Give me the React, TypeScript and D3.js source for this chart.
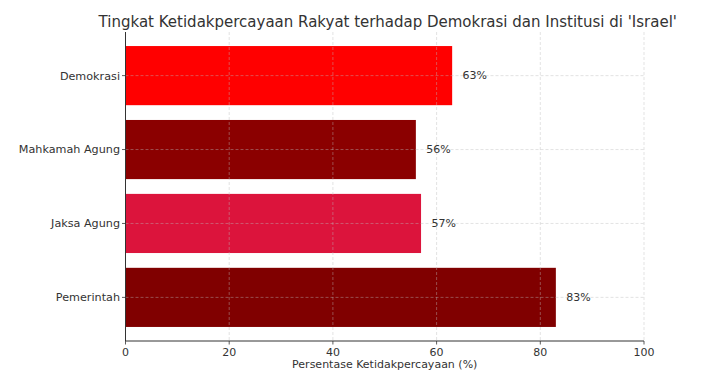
import React from "react";
import * as d3 from "d3";

const categories = ["Pemerintah", "Jaksa Agung", "Mahkamah Agung", "Demokrasi"];
const values = [83, 57, 56, 63];
const colors = ["#800000", "#DC143C", "#8B0000", "#FF0000"];
const xTicks = [0, 20, 40, 60, 80, 100];
const title = "Tingkat Ketidakpercayaan Rakyat terhadap Demokrasi dan Institusi di 'Israel'";
const xLabel = "Persentase Ketidakpercayaan (%)";

const W = 718, H = 384;
const left = 125.5, right = 644, top = 32, bottom = 341;
const font = "DejaVu Sans, sans-serif";
const textColor = "#333";

export default function App() {
  const x = d3.scaleLinear().domain([0, 100]).range([left, right]);
  const y = d3.scaleLinear().domain([-0.59, 3.59]).range([bottom, top]);
  const bh = y(0) - y(0.8);
  return (
    <svg width={W} height={H} style={{ position: "absolute", left: 0, top: 0, background: "#fff" }}>
      <text x={(left + right) / 2 + 3} y={27} textAnchor="middle" fontFamily={font} fontSize={15} fill={textColor}>{title}</text>
      {categories.map((c, i) => (
        <rect key={c} x={x(0)} y={y(i + 0.4)} width={x(values[i]) - x(0)} height={bh} fill={colors[i]} />
      ))}
      {xTicks.map(t => (
        <line key={"gx" + t} x1={x(t)} x2={x(t)} y1={top} y2={bottom} stroke="#bbb" strokeOpacity={0.6} strokeDasharray="3,2" strokeWidth={0.7} />
      ))}
      {categories.map((c, i) => (
        <line key={"gy" + c} x1={left} x2={right} y1={y(i)} y2={y(i)} stroke="#bbb" strokeOpacity={0.6} strokeDasharray="3,2" strokeWidth={0.7} />
      ))}
      {categories.map((c, i) => (
        <g key={"l" + c}>
          <line x1={left - 3.5} x2={left} y1={y(i)} y2={y(i)} stroke={textColor} strokeWidth={0.8} />
          <text x={left - 5.5} y={y(i)} dy="0.35em" textAnchor="end" fontFamily={font} fontSize={11.2} fill={textColor}>{c}</text>
          <text x={x(values[i] + 2)} y={y(i)} dy="0.35em" textAnchor="start" fontFamily={font} fontSize={11} fill={textColor}>{values[i]}%</text>
        </g>
      ))}
      {xTicks.map(t => (
        <g key={"t" + t}>
          <line x1={x(t)} x2={x(t)} y1={bottom} y2={bottom + 3.5} stroke={textColor} strokeWidth={0.8} />
          <text x={x(t)} y={bottom + 15} textAnchor="middle" fontFamily={font} fontSize={11} fill={textColor}>{t}</text>
        </g>
      ))}
      <line x1={left} x2={left} y1={top} y2={bottom} stroke={textColor} strokeWidth={1} />
      <line x1={left} x2={right} y1={bottom} y2={bottom} stroke={textColor} strokeWidth={1} />
      <text x={(left + right) / 2} y={368} textAnchor="middle" fontFamily={font} fontSize={11} fill={textColor}>{xLabel}</text>
    </svg>
  );
}
